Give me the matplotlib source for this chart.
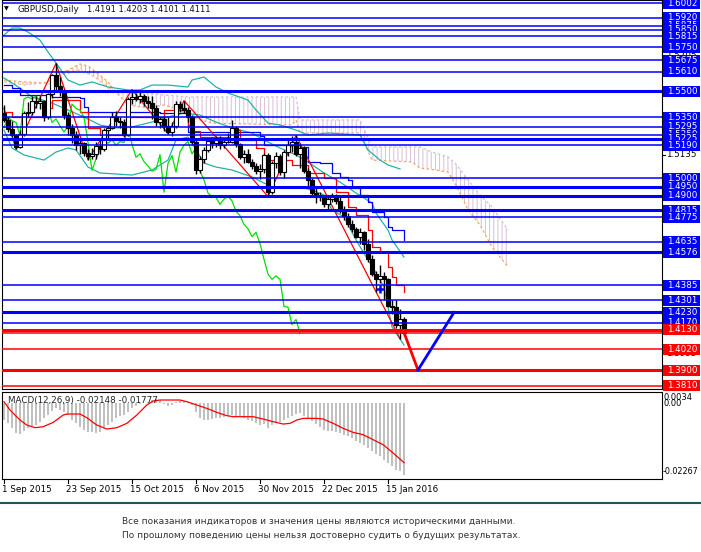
import matplotlib
matplotlib.use("Agg")
import matplotlib.pyplot as plt
import matplotlib.transforms as mtransforms
from matplotlib.lines import Line2D
from matplotlib.patches import Rectangle

plt.rcParams['font.family'] = ['DejaVu Sans']
plt.rcParams['hatch.linewidth'] = 0.7

# GBPUSD daily candles, bar 0 = 1 Sep 2015 ... bar 100 = 21 Jan 2016
opens = [1.5375, 1.5335, 1.5280, 1.5245, 1.5180, 1.5255, 1.5375, 1.5380, 1.5445, 1.5430,
         1.5440, 1.5350, 1.5480, 1.5590, 1.5530, 1.5500, 1.5365, 1.5290, 1.5245, 1.5190,
         1.5200, 1.5145, 1.5125, 1.5140, 1.5185, 1.5165, 1.5275, 1.5290, 1.5350, 1.5330,
         1.5320, 1.5245, 1.5455, 1.5465, 1.5455, 1.5470, 1.5440, 1.5430, 1.5400, 1.5320,
         1.5340, 1.5300, 1.5265, 1.5300, 1.5425, 1.5400, 1.5390, 1.5350, 1.5205, 1.5045,
         1.5110, 1.5160, 1.5215, 1.5200, 1.5220, 1.5190, 1.5210, 1.5205, 1.5290, 1.5195,
         1.5120, 1.5140, 1.5095, 1.5070, 1.5040, 1.5050, 1.5135, 1.4920, 1.5085, 1.5130,
         1.5035, 1.5150, 1.5190, 1.5210, 1.5140, 1.5175, 1.5040, 1.4990, 1.4915, 1.4895,
         1.4890, 1.4850, 1.4880, 1.4895, 1.4870, 1.4810, 1.4785, 1.4735, 1.4710, 1.4665,
         1.4690, 1.4625, 1.4535, 1.4450, 1.4420, 1.4440, 1.4420, 1.4265, 1.4260, 1.4160,
         1.4191]
highs = [1.5420, 1.5350, 1.5330, 1.5255, 1.5275, 1.5385, 1.5435, 1.5470, 1.5470, 1.5470,
         1.5450, 1.5490, 1.5600, 1.5658, 1.5580, 1.5510, 1.5380, 1.5310, 1.5270, 1.5225,
         1.5210, 1.5165, 1.5175, 1.5210, 1.5225, 1.5285, 1.5300, 1.5380, 1.5385, 1.5350,
         1.5340, 1.5465, 1.5508, 1.5490, 1.5495, 1.5480, 1.5470, 1.5470, 1.5420, 1.5350,
         1.5355, 1.5350, 1.5320, 1.5440, 1.5440, 1.5445, 1.5410, 1.5360, 1.5225, 1.5130,
         1.5180, 1.5230, 1.5235, 1.5240, 1.5240, 1.5225, 1.5260, 1.5335, 1.5300, 1.5200,
         1.5160, 1.5170, 1.5110, 1.5090, 1.5080, 1.5145, 1.5145, 1.5100, 1.5150, 1.5140,
         1.5160, 1.5230, 1.5240, 1.5245, 1.5200, 1.5185, 1.5060, 1.5000, 1.4950, 1.4920,
         1.4900, 1.4890, 1.4915, 1.4910, 1.4890, 1.4840, 1.4800, 1.4760, 1.4720, 1.4715,
         1.4700, 1.4650, 1.4560, 1.4470, 1.4500, 1.4460, 1.4425, 1.4300, 1.4300, 1.4250,
         1.4203]
lows = [1.5320, 1.5265, 1.5235, 1.5165, 1.5175, 1.5240, 1.5350, 1.5365, 1.5400, 1.5395,
        1.5330, 1.5340, 1.5460, 1.5500, 1.5470, 1.5340, 1.5245, 1.5200, 1.5160, 1.5140,
        1.5125, 1.5105, 1.5110, 1.5110, 1.5140, 1.5155, 1.5230, 1.5280, 1.5300, 1.5290,
        1.5235, 1.5240, 1.5425, 1.5440, 1.5430, 1.5415, 1.5400, 1.5340, 1.5300, 1.5290,
        1.5270, 1.5255, 1.5240, 1.5290, 1.5380, 1.5375, 1.5320, 1.5190, 1.5025, 1.5030,
        1.5090, 1.5150, 1.5175, 1.5180, 1.5170, 1.5175, 1.5200, 1.5200, 1.5180, 1.5110,
        1.5090, 1.5085, 1.5050, 1.5025, 1.4995, 1.5030, 1.4895, 1.4910, 1.5060, 1.5020,
        1.5000, 1.5130, 1.5150, 1.5130, 1.5060, 1.5030, 1.4950, 1.4895, 1.4860, 1.4870,
        1.4835, 1.4825, 1.4865, 1.4850, 1.4800, 1.4760, 1.4720, 1.4690, 1.4655, 1.4620,
        1.4590, 1.4520, 1.4440, 1.4350, 1.4400, 1.4300, 1.4260, 1.4220, 1.4140, 1.4080,
        1.4101]
closes = [1.5335, 1.5280, 1.5245, 1.5180, 1.5255, 1.5375, 1.5380, 1.5445, 1.5430, 1.5440,
          1.5350, 1.5480, 1.5590, 1.5530, 1.5500, 1.5365, 1.5290, 1.5245, 1.5190, 1.5200,
          1.5145, 1.5125, 1.5140, 1.5185, 1.5165, 1.5275, 1.5290, 1.5350, 1.5330, 1.5320,
          1.5245, 1.5455, 1.5465, 1.5455, 1.5470, 1.5440, 1.5430, 1.5400, 1.5320, 1.5340,
          1.5300, 1.5265, 1.5300, 1.5425, 1.5400, 1.5390, 1.5350, 1.5205, 1.5045, 1.5110,
          1.5160, 1.5215, 1.5200, 1.5220, 1.5190, 1.5210, 1.5205, 1.5290, 1.5195, 1.5120,
          1.5140, 1.5095, 1.5070, 1.5040, 1.5050, 1.5135, 1.4920, 1.5085, 1.5130, 1.5035,
          1.5150, 1.5190, 1.5210, 1.5140, 1.5175, 1.5040, 1.4990, 1.4915, 1.4895, 1.4890,
          1.4850, 1.4880, 1.4895, 1.4870, 1.4810, 1.4785, 1.4735, 1.4710, 1.4665, 1.4690,
          1.4625, 1.4535, 1.4450, 1.4420, 1.4440, 1.4420, 1.4265, 1.4260, 1.4160, 1.4190,
          1.4111]

date_ticks = [0, 16, 32, 48, 64, 80, 96]
date_labels = ['1 Sep 2015', '23 Sep 2015', '15 Oct 2015', '6 Nov 2015',
               '30 Nov 2015', '22 Dec 2015', '15 Jan 2016']

# Ichimoku cloud (spans shifted 26 bars ahead)
cloud_x = [0, 5, 10, 13, 15, 19, 21, 23, 26, 28, 31, 36, 40, 44, 46, 49, 52, 72, 73, 74,
           89, 92, 102, 104, 107, 111, 113, 116, 119, 122, 126]
span_a = [1.5563, 1.5552, 1.5546, 1.5575, 1.5609, 1.5655, 1.5643, 1.5609, 1.5552, 1.5494,
          1.5420, 1.5403, 1.5420, 1.5391, 1.5362, 1.5334, 1.5316, 1.5305, 1.5334, 1.5259,
          1.5259, 1.5104, 1.5093, 1.5058, 1.5050, 1.5035, 1.4961, 1.4818, 1.4732, 1.4605,
          1.4491]
span_b = [1.5552, 1.5534, 1.5546, 1.5534, 1.5595, 1.5620, 1.5600, 1.5575, 1.5517, 1.5494,
          1.5494, 1.5489, 1.5477, 1.5470, 1.5466, 1.5466, 1.5466, 1.5466, 1.5466, 1.5334,
          1.5334, 1.5179, 1.5179, 1.5179, 1.5150, 1.5122, 1.5080, 1.4990, 1.4904, 1.4835,
          1.4703]

tenkan_x = [0, 2, 11, 12, 19, 21, 24, 31, 40, 46, 47, 49, 58, 59, 63, 65, 72, 76, 80, 83,
            86, 88, 91, 92, 94, 96, 97, 98, 100]
tenkan = [1.5380, 1.5351, 1.5403, 1.5448, 1.5380, 1.5288, 1.5248, 1.5351, 1.5391, 1.5305,
          1.5270, 1.5236, 1.5276, 1.5220, 1.5173, 1.5104, 1.5076, 1.5030, 1.5001, 1.4921,
          1.4835, 1.4789, 1.4703, 1.4605, 1.4577, 1.4491, 1.4433, 1.4387, 1.4347]
kijun_x = [0, 2, 4, 12, 19, 20, 21, 37, 39, 45, 46, 64, 65, 74, 76, 79, 82, 84, 86, 87,
           89, 91, 92, 95, 96, 97, 100]
kijun = [1.5534, 1.5517, 1.5477, 1.5466, 1.5460, 1.5408, 1.5380, 1.5380, 1.5374, 1.5374,
         1.5265, 1.5242, 1.5190, 1.5179, 1.5093, 1.5087, 1.5030, 1.5007, 1.4990, 1.4944,
         1.4904, 1.4863, 1.4806, 1.4777, 1.4720, 1.4703, 1.4646]

# Bollinger bands
bb_up_x = [0, 2, 4, 6, 9, 11, 13, 16, 19, 22, 26, 31, 34, 37, 41, 46, 47, 50, 53, 56,
           61, 63, 66, 69, 73, 76, 81, 89, 91, 94, 96, 99]
bb_up = [1.5821, 1.5861, 1.5861, 1.5838, 1.5792, 1.5724, 1.5661, 1.5563, 1.5534, 1.5552,
         1.5523, 1.5506, 1.5506, 1.5534, 1.5534, 1.5523, 1.5563, 1.5580, 1.5523, 1.5489,
         1.5448, 1.5391, 1.5316, 1.5305, 1.5276, 1.5248, 1.5259, 1.5248, 1.5162, 1.5104,
         1.5076, 1.5053]
bb_mid_x = [0, 4, 7, 12, 16, 20, 24, 28, 32, 37, 41, 45, 49, 53, 57, 62, 65, 69, 73, 76,
            80, 84, 88, 92, 93, 96, 97, 100]
bb_mid = [1.5575, 1.5517, 1.5466, 1.5431, 1.5391, 1.5351, 1.5305, 1.5288, 1.5294, 1.5322,
          1.5351, 1.5374, 1.5362, 1.5322, 1.5288, 1.5259, 1.5219, 1.5173, 1.5133, 1.5093,
          1.5030, 1.4978, 1.4915, 1.4858, 1.4800, 1.4703, 1.4646, 1.4548]
bb_low_x = [0, 2, 5, 10, 13, 16, 18, 21, 24, 32, 37, 41, 43, 46, 47, 50, 53, 57, 62, 65,
            68, 74, 77, 80, 82, 85, 88, 91, 93, 95, 97, 100]
bb_low = [1.5276, 1.5173, 1.5133, 1.5104, 1.5150, 1.5173, 1.5162, 1.5064, 1.5030, 1.5018,
          1.5047, 1.5104, 1.5219, 1.5236, 1.5202, 1.5087, 1.5064, 1.5047, 1.5007, 1.4972,
          1.4949, 1.4949, 1.4932, 1.4904, 1.4818, 1.4777, 1.4646, 1.4531, 1.4456, 1.4376,
          1.4147, 1.4043]

# zigzag swings and the drawn forecast
zz_x = [0, 3, 13, 21, 32, 41, 45, 66, 73, 99]
zz_y = [1.5400, 1.5165, 1.5658, 1.5105, 1.5508, 1.5255, 1.5445, 1.4895, 1.5245, 1.4080]
fc_down_x = [100, 103.5]
fc_down_y = [1.4115, 1.3900]
fc_up_x = [103.5, 112.5]
fc_up_y = [1.3900, 1.4230]
mark_x, mark_y = 94, 1.4365

# horizontal levels
blue_levels = [1.6002, 1.5920, 1.5875, 1.5850, 1.5815, 1.5750, 1.5675, 1.5610, 1.5500,
               1.5350, 1.5295, 1.5250, 1.5225, 1.5190, 1.5000, 1.4950, 1.4900, 1.4815,
               1.4775, 1.4635, 1.4576, 1.4385, 1.4301, 1.4230, 1.4170]
red_levels = [1.4130, 1.4111, 1.4020, 1.3900, 1.3810]
thick_levels = [1.5500, 1.5225, 1.4950, 1.4900, 1.4815, 1.4576, 1.4230, 1.4130, 1.3900]
unlabelled = [1.4111]
axis_ticks = [1.5705, 1.5135, 1.4755, 1.4375, 1.3995]

# MACD(12,26,9): histogram per bar, signal line read at points
macd_hist = [-0.0050, -0.0060, -0.0075, -0.0089, -0.0092, -0.0083, -0.0073, -0.0067, -0.0065, -0.0055,
             -0.0045, -0.0035, -0.0023, -0.0015, -0.0020, -0.0027, -0.0035, -0.0050, -0.0060, -0.0070,
             -0.0080, -0.0085, -0.0087, -0.0089, -0.0087, -0.0075, -0.0065, -0.0055, -0.0045, -0.0037,
             -0.0035, -0.0025, -0.0015, -0.0007, -0.0003, 0.0002, 0.0005, 0.0010, 0.0013, 0.0010,
             -0.0001, -0.0007, -0.0005, 0.0003, 0.0007, 0.0007, 0.0003, -0.0005, -0.0027, -0.0043,
             -0.0050, -0.0050, -0.0047, -0.0045, -0.0045, -0.0040, -0.0037, -0.0035, -0.0037, -0.0040,
             -0.0045, -0.0050, -0.0053, -0.0060, -0.0065, -0.0063, -0.0073, -0.0065, -0.0060, -0.0057,
             -0.0050, -0.0045, -0.0037, -0.0033, -0.0030, -0.0037, -0.0045, -0.0053, -0.0063, -0.0070,
             -0.0080, -0.0083, -0.0083, -0.0085, -0.0089, -0.0094, -0.0099, -0.0104, -0.0112, -0.0119,
             -0.0126, -0.0134, -0.0142, -0.0152, -0.0159, -0.0169, -0.0179, -0.0189, -0.0199, -0.0204,
             -0.02148]
signal_x = [0, 1.5, 4, 5.7, 7.8, 9.8, 12.3, 14.8, 15.7, 19, 20.7, 23.2, 25.7, 28.2, 30.7, 33.2,
            35.7, 37.3, 39, 44, 45.7, 48.2, 50.7, 53.2, 55.7, 57.3, 62.3, 64.8, 67.3, 69.8, 71.5,
            73.2, 74.8, 78.2, 79.8, 82.3, 84.8, 87.3, 89.8, 92.3, 94.8, 97.3, 100]
signal = [0.0005, -0.0020, -0.0050, -0.0065, -0.0073, -0.0070, -0.0057, -0.0035, -0.0032, -0.0032,
          -0.0043, -0.0065, -0.0077, -0.0073, -0.0060, -0.0035, -0.0005, 0.0007, 0.0010, 0.0010,
          0.0005, -0.0005, -0.0015, -0.0027, -0.0037, -0.0040, -0.0040, -0.0047, -0.0055, -0.0062,
          -0.0060, -0.0050, -0.0045, -0.0045, -0.0047, -0.0060, -0.0075, -0.0087, -0.0094, -0.0109,
          -0.0124, -0.0149, -0.01777]

BLUE = '#0000FF'
RED = '#FF0000'
TEAL = '#20B2AA'
GREEN = '#00E000'
THISTLE = '#D8BFD8'
SANDY = '#F4A460'

W, H = 701, 552
fig = plt.figure(figsize=(W / 100, H / 100), dpi=100)
fig.patch.set_facecolor('white')

ax = fig.add_axes([2 / W, 1 - 389 / H, 660 / W, 389 / H])
mx = fig.add_axes([2 / W, 1 - 479 / H, 660 / W, 87 / H])
ax.set_xlim(-0.5, 164.5)
ax.set_ylim(1.37911, 1.60219)
mx.set_xlim(-0.5, 164.5)
mx.set_ylim(-0.02267, 0.0034)
for a in (ax, mx):
    a.set_xticks([])
    a.set_yticks([])
    for s in a.spines.values():
        s.set_color('black')
        s.set_linewidth(0.8)

# cloud
above = [a >= b for a, b in zip(span_a, span_b)]
below = [not v for v in above]
ax.fill_between(cloud_x, span_a, span_b, where=above, interpolate=True, facecolor='none',
                edgecolor=SANDY, hatch='||||', linewidth=0, zorder=1)
ax.fill_between(cloud_x, span_a, span_b, where=below, interpolate=True, facecolor='none',
                edgecolor=THISTLE, hatch='||||', linewidth=0, zorder=1)
ax.plot(cloud_x, span_a, color=SANDY, lw=0.9, ls=(0, (2, 2)), zorder=1.5)
ax.plot(cloud_x, span_b, color=THISTLE, lw=0.9, ls=(0, (2, 2)), zorder=1.5)

# indicator lines
ax.plot(bb_up_x, bb_up, color=TEAL, lw=0.9, zorder=2)
ax.plot(bb_mid_x, bb_mid, color=TEAL, lw=0.9, zorder=2)
ax.plot(bb_low_x, bb_low, color=TEAL, lw=0.9, zorder=2)
ax.plot(kijun_x, kijun, color=BLUE, lw=0.9, drawstyle='steps-post', zorder=2)
ax.plot(tenkan_x, tenkan, color=RED, lw=0.9, drawstyle='steps-post', zorder=2)
ax.plot(zz_x, zz_y, color=RED, lw=0.9, zorder=2)
bars = list(range(len(closes)))
ax.plot([i - 26 for i in bars[26:]], closes[26:], color=GREEN, lw=0.9, zorder=2)

# candles
ax.vlines(bars, lows, highs, color='black', lw=1.0, zorder=3)
bottoms = [min(o, c) for o, c in zip(opens, closes)]
heights = [max(abs(c - o), 0.0002) for o, c in zip(opens, closes)]
faces = ['white' if c >= o else 'black' for o, c in zip(opens, closes)]
ax.bar(bars, heights, bottom=bottoms, width=0.78, color=faces, edgecolor='black',
       linewidth=0.8, zorder=3.1)

# levels
for lvl in blue_levels:
    ax.axhline(lvl, color=BLUE, lw=2.2 if lvl in thick_levels else 1.1, zorder=4)
for lvl in red_levels:
    ax.axhline(lvl, color=RED, lw=2.2 if lvl in thick_levels else 1.1, zorder=4)

# forecast
ax.plot(fc_down_x, fc_down_y, color=RED, lw=2.0, zorder=5)
ax.plot(fc_up_x, fc_up_y, color=BLUE, lw=2.0, zorder=5)
ax.plot([mark_x], [mark_y], marker='+', ms=6, mew=1.8, color=BLUE, zorder=5)

# price axis labels
trans = mtransforms.blended_transform_factory(ax.transAxes, ax.transData)
box_h = 11 / 1743.75
for t in axis_ticks:
    ax.text(1 + 4 / 660, t, f'{t:.4f}', transform=trans, fontsize=6.3, color='black',
            va='center', ha='left', clip_on=False, zorder=6)
    ax.plot([1, 1 + 3 / 660], [t, t], transform=trans, color='black', lw=0.8,
            clip_on=False, zorder=6)

labelled = [(l, BLUE) for l in blue_levels] + [(l, RED) for l in red_levels if l not in unlabelled]
labelled.sort(key=lambda p: -p[0])
for k, (lvl, col) in enumerate(labelled):
    z = 10 + 2 * k
    ax.add_patch(Rectangle((1 + 1 / 660, lvl - box_h / 2), 37 / 660, box_h, transform=trans,
                           facecolor=col, edgecolor='none', clip_on=False, zorder=z))
    ax.text(1 + 5 / 660, lvl, f'{lvl:.4f}', transform=trans, fontsize=6.3, color='white',
            va='center', ha='left', clip_on=False, zorder=z + 1)

# MACD
mx.bar(bars, macd_hist, width=0.55, color='#C0C0C0', zorder=1)
mx.plot(signal_x, signal, color=RED, lw=0.9, zorder=2)
mx.text(6 / 660, 1 - 8 / 87, 'MACD(12,26,9) -0.02148 -0.01777', transform=mx.transAxes,
        fontsize=6.3, color='#222222', va='center', ha='left')

fig.text(664 / W, 1 - 397 / H, '0.0034', fontsize=6.0, va='center', ha='left')
fig.text(664 / W, 1 - 404 / H, '0.00', fontsize=6.0, va='center', ha='left')
fig.text(663 / W, 1 - 472 / H, '-0.02267', fontsize=5.8, va='center', ha='left')

# date axis
dtrans = mtransforms.blended_transform_factory(mx.transData, fig.transFigure)
for t, lab in zip(date_ticks, date_labels):
    fig.add_artist(Line2D([t, t], [1 - 479 / H, 1 - 483 / H], transform=dtrans,
                          color='black', lw=0.8))
    fig.text(t - 0.5, 1 - 489 / H, lab, transform=dtrans, fontsize=6.3, va='center', ha='left')

# header
fig.text(4 / W, 1 - 9 / H, '\u25BC', fontsize=4.5, va='center', ha='left', color='black')
fig.text(17 / W, 1 - 9 / H, 'GBPUSD,Daily', fontsize=6.3, va='center', ha='left', color='#111111')
fig.text(87 / W, 1 - 9 / H, '1.4191 1.4203 1.4101 1.4111', fontsize=6.0, va='center',
         ha='left', color='#111111')

# footer
fig.add_artist(Line2D([0, 1], [1 - 503 / H, 1 - 503 / H], transform=fig.transFigure,
                      color='#24505f', lw=1.5))
fig.text(319 / W, 1 - 522 / H,
         'Все показания индикаторов и значения цены являются историческими данными.',
         fontsize=6.5, color='#333333', ha='center', va='center')
fig.text(321 / W, 1 - 535 / H,
         'По прошлому поведению цены нельзя достоверно судить о будущих результатах.',
         fontsize=6.5, color='#333333', ha='center', va='center')

fig.savefig('out.png', dpi=100)
